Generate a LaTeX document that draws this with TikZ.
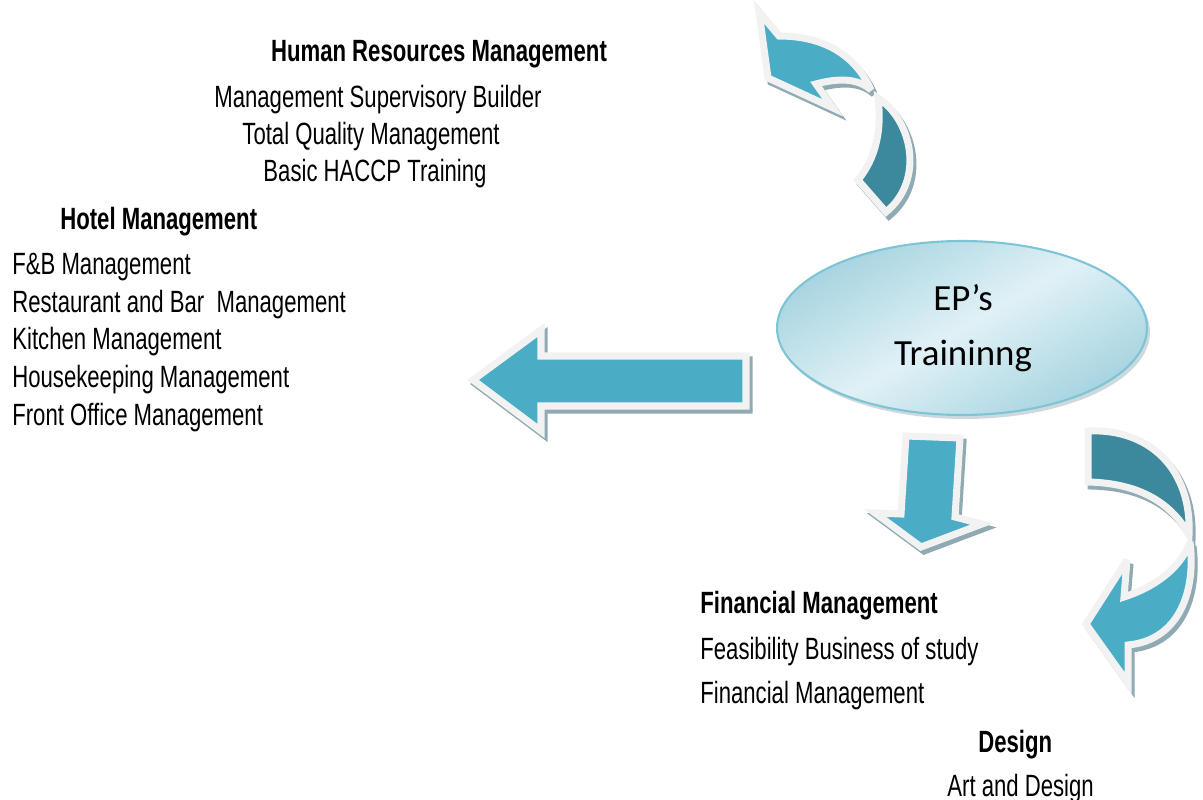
\documentclass[tikz,border=0pt]{standalone}
\usepackage{fontspec}
\setmainfont{Liberation Sans}[FakeStretch=0.72]
\newfontfamily\ovalfont{Carlito}
\usetikzlibrary{positioning}
\usetikzlibrary{shapes.geometric}

\definecolor{arrlight}{HTML}{4BACC6}
\definecolor{arrdark}{HTML}{3C889C}
\definecolor{arrrim}{HTML}{F2F2F2}
\definecolor{arrshade}{HTML}{8FAAB2}
\definecolor{ovalrim}{HTML}{7FC4D6}
\definecolor{ovalpale}{HTML}{E0F1F6}
\definecolor{ovaldeep}{HTML}{A6D4E0}

\tikzset{
	entry/.style={anchor=base west, inner sep=0pt, font=\fontsize{17.5}{20}\selectfont},
	topic/.style={entry, font=\fontsize{17.5}{20}\selectfont\bfseries},
	lightpart/.style={fill=arrlight, draw=arrrim, line width=4pt, line join=miter, miter limit=4},
	darkpart/.style={lightpart, fill=arrdark},
	shadowpart/.style={fill=arrshade, draw=arrshade, line width=4pt, line join=miter, miter limit=4, shift={(3,4)}},
}

\begin{document}
\begin{tikzpicture}[x=0.02cm,y=-0.02cm]
	\useasboundingbox (0,0) rectangle (1203,800);
	% shadows of the arrows
	\path[shadowpart] (759,12) -- (768,78) -- (833,108) -- (816,84) .. controls (838,78) and (858,78) .. (871,90) .. controls (856,56) and (825,36) .. (779,36) -- cycle;
	\path[shadowpart] (878,98) .. controls (912,120) and (925,180) .. (886,212) -- (858,180) .. controls (876,158) and (882,130) .. (878,98) -- cycle;
	\path[shadowpart] (473,380) -- (541,330) -- (541,356) -- (746,356) -- (746,406) -- (541,406) -- (541,431) -- cycle;
	\path[shadowpart] (906,436) -- (960,438) -- (955,517) -- (982,524) -- (921,547) -- (875,513) -- (901,514) -- cycle;
	\path[shadowpart] (1088,431) .. controls (1150,428) and (1192,470) .. (1189,535) .. controls (1170,500) and (1135,483) .. (1088,482) -- cycle;
	\path[shadowpart] (1190,542) .. controls (1196,590) and (1180,640) .. (1128,645) -- (1128,683) -- (1086,624) -- (1127,560) -- (1124,597) .. controls (1152,588) and (1180,570) .. (1190,542) -- cycle;
	% arrows
	\path[lightpart] (759,12) -- (768,78) -- (833,108) -- (816,84) .. controls (838,78) and (858,78) .. (871,90) .. controls (856,56) and (825,36) .. (779,36) -- cycle;
	\path[darkpart] (878,98) .. controls (912,120) and (925,180) .. (886,212) -- (858,180) .. controls (876,158) and (882,130) .. (878,98) -- cycle;
	\path[lightpart] (473,380) -- (541,330) -- (541,356) -- (746,356) -- (746,406) -- (541,406) -- (541,431) -- cycle;
	\path[lightpart] (906,436) -- (960,438) -- (955,517) -- (982,524) -- (921,547) -- (875,513) -- (901,514) -- cycle;
	\path[darkpart] (1088,431) .. controls (1150,428) and (1192,470) .. (1189,535) .. controls (1170,500) and (1135,483) .. (1088,482) -- cycle;
	\path[lightpart] (1190,542) .. controls (1196,590) and (1180,640) .. (1128,645) -- (1128,683) -- (1086,624) -- (1127,560) -- (1124,597) .. controls (1152,588) and (1180,570) .. (1190,542) -- cycle;
	% the oval
	\node[ellipse, minimum width=7.4cm, minimum height=3.48cm, fill=arrshade!45] at (965,332) {};
	\node[ellipse, minimum width=7.4cm, minimum height=3.48cm, draw=ovalrim, line width=1.2pt,
		top color=ovaldeep, bottom color=ovaldeep, middle color=ovalpale, shading angle=30] (oval) at (962,328) {};
	\node[anchor=base, inner sep=0pt, font=\ovalfont\fontsize{21}{24}\selectfont] (eps) at (963,311) {EP’s};
	\node[anchor=base, inner sep=0pt, font=\ovalfont\fontsize{21}{24}\selectfont] (training) at (963,365) {Traininng};
	% human resources
	\node[topic, anchor=base] (hrm) at (439,62) {Human Resources Management};
	\node[entry, anchor=base] (hrm1) at (378,108) {Management Supervisory Builder};
	\node[entry, anchor=base] (hrm2) at (371,145) {Total Quality Management};
	\node[entry, anchor=base] (hrm3) at (375,182) {Basic HACCP Training};
	% hotel
	\node[topic] (hotel) at (60,230) {Hotel Management};
	\foreach \txt [count=\i] in {F\&B Management, Restaurant and Bar\ \ Management, Kitchen Management, Housekeeping Management, Front Office Management}
		\node[entry] (hotel\i) at (12,{237.5+37.5*\i}) {\txt};
	% finance and design
	\node[topic] (fin) at (700,613) {Financial Management};
	\node[entry] (fin1) at (700,659) {Feasibility Business of study};
	\node[entry] (fin2) at (700,703) {Financial Management};
	\node[topic] (design) at (978,752) {Design};
	\node[entry] (design1) at (947,796) {Art and Design};
\end{tikzpicture}
\end{document}
